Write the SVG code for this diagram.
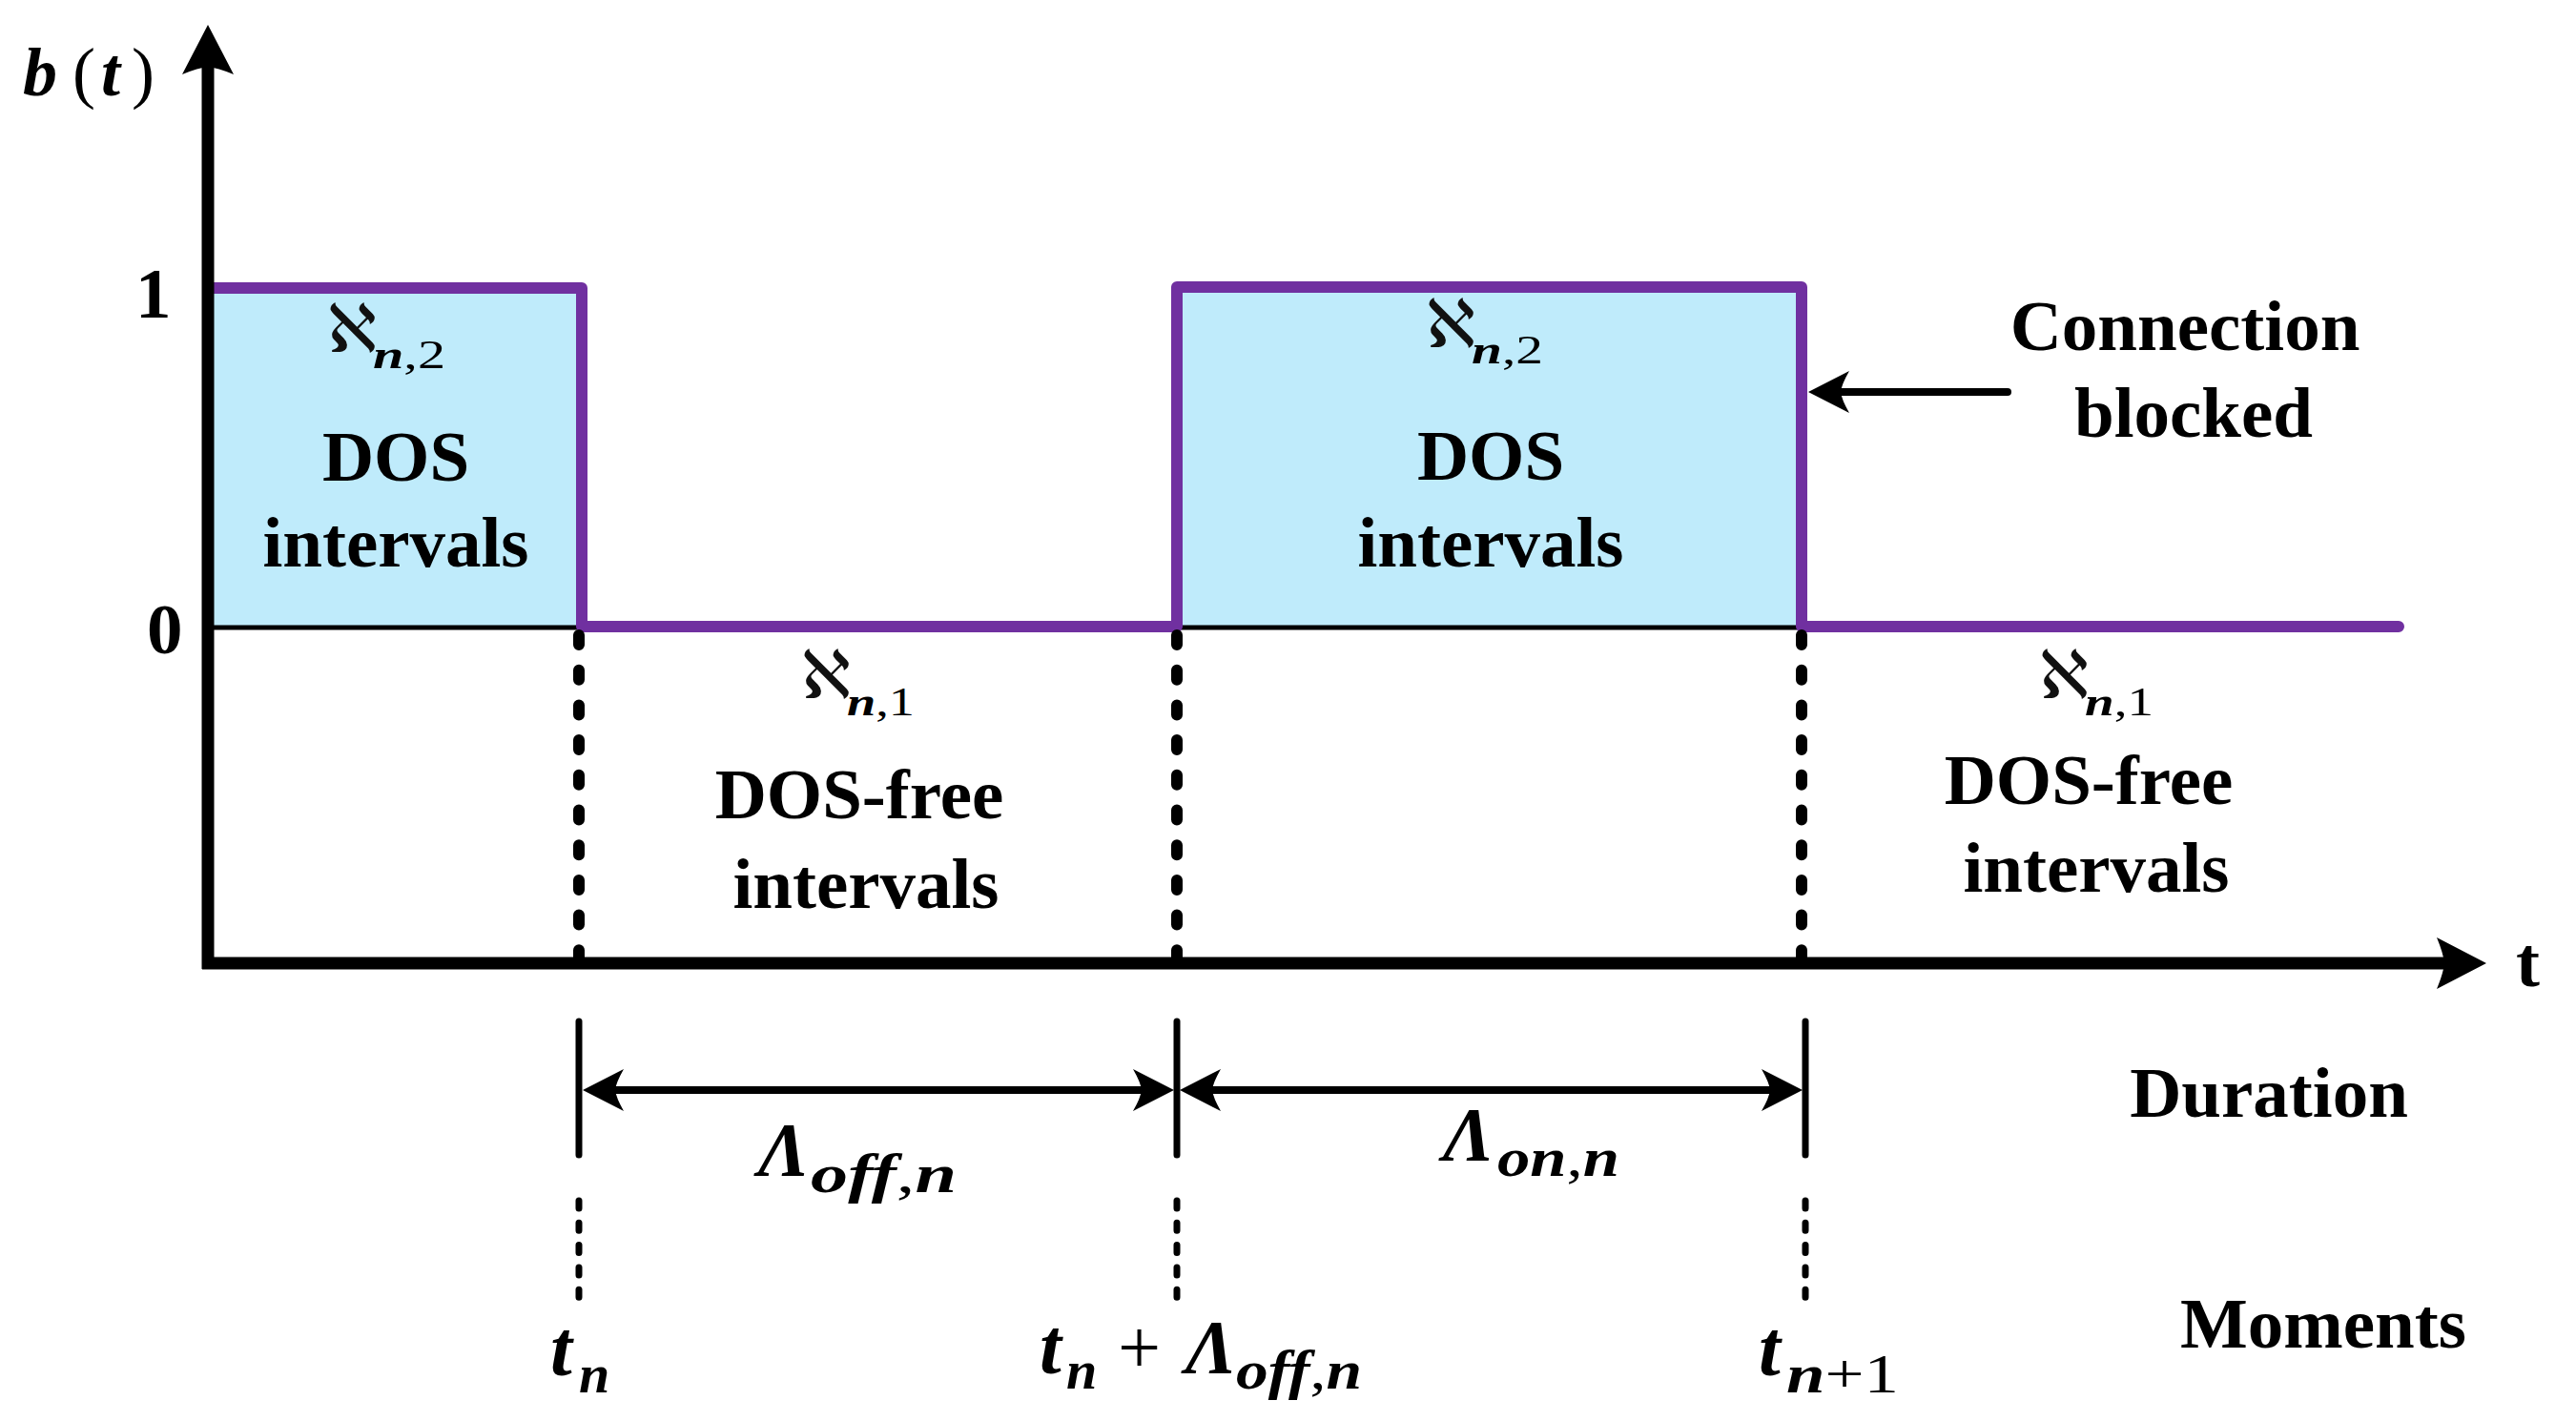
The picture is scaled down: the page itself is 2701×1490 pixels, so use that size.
<svg xmlns="http://www.w3.org/2000/svg" width="2701" height="1490" viewBox="0 0 2701 1490">
<style>
  .lbl { font-family: "Liberation Serif", "Times New Roman", serif; font-weight: bold; font-size: 75px; fill: #000; }
  .mth { font-family: "Liberation Serif", "Times New Roman", serif; font-weight: bold; font-style: italic; fill: #000; }
  .up { font-style: normal; font-weight: normal; }
  .aleph { font-family: "DejaVu Serif", "DejaVu Sans", serif; font-weight: normal; font-style: normal; font-size: 70px; fill: #111; }
  .axis { stroke: #000; stroke-width: 13; fill: none; }
  .sig { stroke: #7030A0; stroke-width: 12; fill: none; stroke-linejoin: round; stroke-linecap: round; }
  .box { fill: #BFEBFB; stroke: none; }
  .base { stroke: #000; stroke-width: 5; }
  .dots { stroke: #000; stroke-width: 12; stroke-linecap: round; stroke-dasharray: 10 26.7; fill: none; }
  .tick { stroke: #000; stroke-width: 7; stroke-linecap: round; fill: none; }
  .dash { stroke: #000; stroke-width: 7; stroke-linecap: round; stroke-dasharray: 8 15.3; fill: none; }
  .dim { stroke: #000; stroke-width: 8; fill: none; }
</style>
<defs>
  <marker id="bigArrow" markerUnits="userSpaceOnUse" viewBox="-54 -30 56 60" markerWidth="56" markerHeight="60" refX="-44" refY="0" orient="auto">
    <path d="M0,0 L-52,-27 Q-45,-10 -44,0 Q-45,10 -52,27 Z" fill="#000"/>
  </marker>
  <marker id="smallArrow" markerUnits="userSpaceOnUse" viewBox="-46 -24 48 48" markerWidth="48" markerHeight="48" refX="-34" refY="0" orient="auto-start-reverse">
    <path d="M0,0 L-43,-22 Q-35,-8 -34,0 Q-35,8 -43,22 Z" fill="#000"/>
  </marker>
</defs>

<g id="dos-interval-1">
  <rect class="box" x="219" y="302" width="391" height="356"/>
  <line class="base" x1="219" y1="658" x2="610" y2="658"/>
</g>
<g id="dos-interval-2">
  <rect class="box" x="1234" y="301" width="655" height="357"/>
  <line class="base" x1="1234" y1="658" x2="1889" y2="658"/>
</g>

<g id="signal">
  <path class="sig" d="M219,302 H610 V657 H1234 V301 H1889 V657 H2515"/>
</g>

<g id="connectors">
  <line class="dots" x1="607" y1="666" x2="607" y2="1004"/>
  <line class="dots" x1="1234" y1="666" x2="1234" y2="1004"/>
  <line class="dots" x1="1889" y1="666" x2="1889" y2="1004"/>

  <line class="tick" x1="607" y1="1071" x2="607" y2="1211"/>
  <line class="tick" x1="1234" y1="1071" x2="1234" y2="1211"/>
  <line class="tick" x1="1893" y1="1071" x2="1893" y2="1211"/>

  <line class="dim" x1="645" y1="1143" x2="1197" y2="1143" marker-start="url(#smallArrow)" marker-end="url(#smallArrow)"/>
  <line class="dim" x1="1271" y1="1143" x2="1856" y2="1143" marker-start="url(#smallArrow)" marker-end="url(#smallArrow)"/>

  <line class="dash" x1="607" y1="1259" x2="607" y2="1364"/>
  <line class="dash" x1="1234" y1="1259" x2="1234" y2="1364"/>
  <line class="dash" x1="1893" y1="1259" x2="1893" y2="1364"/>

  <line x1="2105" y1="411" x2="1930" y2="411" stroke="#000" stroke-width="8" stroke-linecap="round" marker-end="url(#smallArrow)"/>
</g>

<g id="axes">
  <line class="axis" x1="218" y1="1016" x2="218" y2="70" marker-end="url(#bigArrow)"/>
  <line class="axis" x1="212" y1="1010" x2="2563" y2="1010" marker-end="url(#bigArrow)"/>
</g>

<g id="axis-labels">
  <text class="mth" font-size="72"><tspan x="24" y="100">b</tspan><tspan class="up" x="76" y="100">(</tspan><tspan x="106" y="100">t</tspan><tspan class="up" x="138" y="100">)</tspan></text>
  <text class="lbl" x="142" y="333" font-size="70">1</text>
  <text class="lbl" x="154" y="685" font-size="70">0</text>
  <text class="lbl" x="2638" y="1034" font-size="90">t</text>
</g>

<g id="dos-label-1">
  <text class="aleph" x="343" y="369">ℵ</text>
  <text class="mth" font-size="42" x="391" y="386" textLength="76" lengthAdjust="spacingAndGlyphs">n<tspan class="up">,2</tspan></text>
  <text class="lbl" x="415" y="504" text-anchor="middle">DOS</text>
  <text class="lbl" x="415" y="594" text-anchor="middle">intervals</text>
</g>
<g id="dos-label-2">
  <text class="aleph" x="1495" y="364">ℵ</text>
  <text class="mth" font-size="42" x="1543" y="381" textLength="75" lengthAdjust="spacingAndGlyphs">n<tspan class="up">,2</tspan></text>
  <text class="lbl" x="1563" y="503" text-anchor="middle">DOS</text>
  <text class="lbl" x="1563" y="594" text-anchor="middle">intervals</text>
</g>
<g id="free-label-1">
  <text class="aleph" x="840" y="732">ℵ</text>
  <text class="mth" font-size="42" x="888" y="750" textLength="71" lengthAdjust="spacingAndGlyphs">n<tspan class="up">,1</tspan></text>
  <text class="lbl" x="901" y="858" text-anchor="middle">DOS-free</text>
  <text class="lbl" x="908" y="952" text-anchor="middle">intervals</text>
</g>
<g id="free-label-2">
  <text class="aleph" x="2138" y="732">ℵ</text>
  <text class="mth" font-size="42" x="2186" y="750" textLength="72" lengthAdjust="spacingAndGlyphs">n<tspan class="up">,1</tspan></text>
  <text class="lbl" x="2190" y="843" text-anchor="middle">DOS-free</text>
  <text class="lbl" x="2198" y="935" text-anchor="middle">intervals</text>
</g>
<g id="connection-label">
  <text class="lbl" x="2291" y="367" text-anchor="middle">Connection</text>
  <text class="lbl" x="2300" y="458" text-anchor="middle">blocked</text>
</g>

<g id="duration-labels">
  <text class="mth"><tspan font-size="80" x="795" y="1233">Λ</tspan><tspan font-size="58" x="850" y="1250" textLength="153" lengthAdjust="spacingAndGlyphs">off<tspan class="up">,</tspan>n</tspan></text>
  <text class="mth"><tspan font-size="80" x="1513" y="1217">Λ</tspan><tspan font-size="58" x="1570" y="1233" textLength="128" lengthAdjust="spacingAndGlyphs">on<tspan class="up">,</tspan>n</tspan></text>
  <text class="lbl" x="2379" y="1171" text-anchor="middle">Duration</text>
</g>

<g id="moment-labels">
  <text class="mth"><tspan font-size="82" x="577" y="1442">t</tspan><tspan font-size="58" x="607" y="1460">n</tspan></text>
  <text class="mth"><tspan font-size="82" x="1090" y="1440">t</tspan><tspan font-size="58" x="1118" y="1456">n</tspan><tspan class="up" font-size="80" x="1172" y="1440">+</tspan><tspan font-size="80" x="1243" y="1440">Λ</tspan><tspan font-size="58" x="1296" y="1456" textLength="132" lengthAdjust="spacingAndGlyphs">off<tspan class="up">,</tspan>n</tspan></text>
  <text class="mth"><tspan font-size="82" x="1844" y="1442">t</tspan><tspan font-size="58" x="1873" y="1460" textLength="118" lengthAdjust="spacingAndGlyphs">n<tspan class="up">+1</tspan></tspan></text>
  <text class="lbl" x="2436" y="1413" text-anchor="middle">Moments</text>
</g>
</svg>
